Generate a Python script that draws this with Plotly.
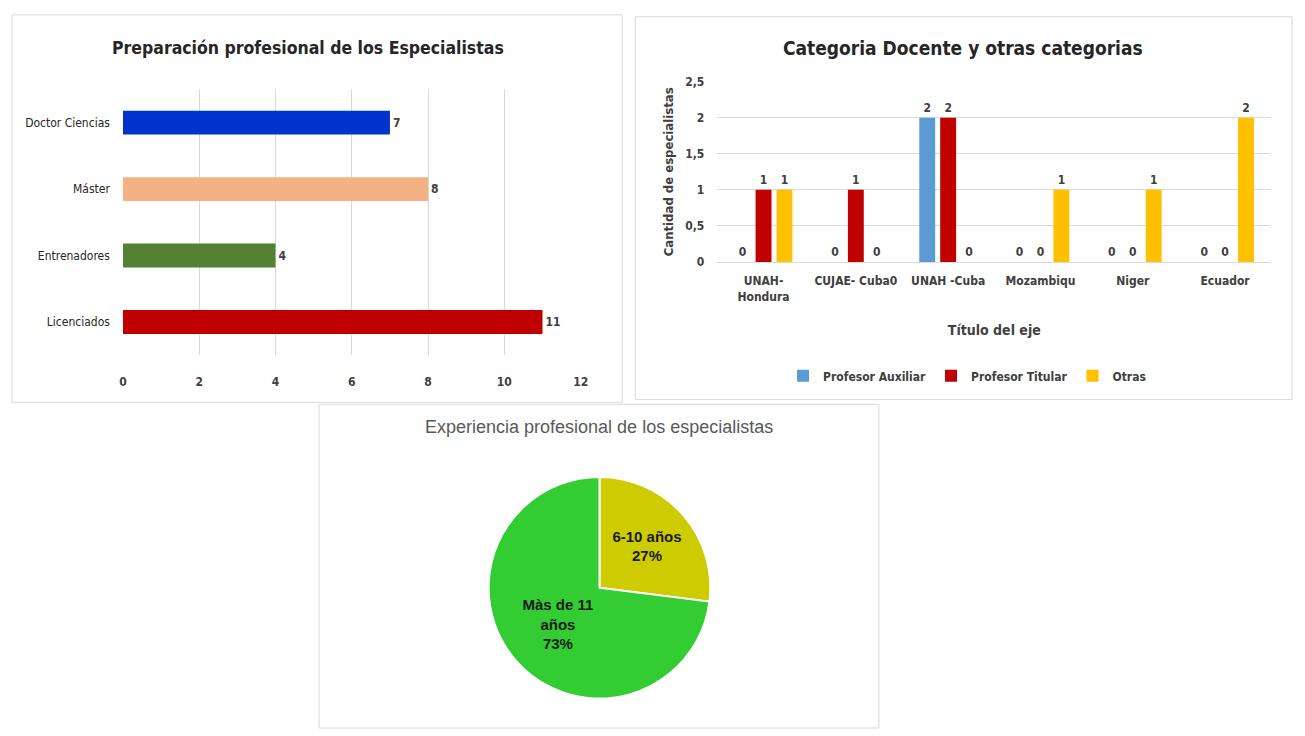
import plotly.graph_objects as go

W, H = 1305, 736

# ---- Data ----
prep_categories = ["Licenciados", "Entrenadores", "Máster", "Doctor Ciencias"]
prep_values = [11, 4, 8, 7]
prep_colors = ["#c00000", "#548235", "#f4b183", "#0033cc"]

cat_categories = ["UNAH-<br>Hondura", "CUJAE- Cuba0", "UNAH -Cuba", "Mozambiqu", "Niger", "Ecuador"]
cat_series = ["Profesor Auxiliar", "Profesor Titular", "Otras"]
aux_values = [0, 0, 2, 0, 0, 0]
titular_values = [1, 1, 2, 0, 0, 0]
otras_values = [1, 0, 0, 1, 1, 2]
cat_colors = ["#5b9bd5", "#c00000", "#ffc000"]

exp_labels = ["6-10 años", "Màs de 11<br>años"]
exp_values = [27, 73]
exp_colors = ["#cccc00", "#33cc33"]

FONT = "Liberation Sans Narrow, DejaVu Sans Condensed, Arial Narrow, sans-serif"


def px_x(x):
    return x / W


def px_y(y):
    return 1 - y / H


fig = go.Figure()

# ---- Panel 1: horizontal bars ----
fig.add_trace(go.Bar(
    y=prep_categories, x=prep_values, orientation="h", width=0.36,
    marker=dict(color=prep_colors, line=dict(width=0)),
    text=[str(v) for v in prep_values], textposition="outside",
    textfont=dict(family=FONT, size=12, color="#404040", weight="bold"),
    cliponaxis=False, showlegend=False, xaxis="x", yaxis="y",
))

# ---- Panel 2: grouped bars ----
for name, vals, col in zip(cat_series, [aux_values, titular_values, otras_values], cat_colors):
    fig.add_trace(go.Bar(
        x=cat_categories, y=vals, name=name,
        marker=dict(color=col, line=dict(width=0)),
        text=[str(v) for v in vals], textposition="outside",
        textfont=dict(family=FONT, size=12, color="#404040", weight="bold"),
        cliponaxis=False, xaxis="x2", yaxis="y2",
    ))

# ---- Panel 3: pie ----
fig.add_trace(go.Pie(
    labels=exp_labels, values=exp_values, sort=False, direction="clockwise",
    rotation=0, marker=dict(colors=exp_colors, line=dict(color="white", width=2)),
    textinfo="label+percent", textposition="inside", insidetextorientation="horizontal",
    textfont=dict(family="Liberation Sans, Arial, sans-serif", size=15, color="#1a1a1a"),
    texttemplate="<b>%{label}<br>%{percent:.0%}</b>",
    domain=dict(x=[px_x(488), px_x(714)], y=[px_y(705), px_y(479)]),
    showlegend=False, hoverinfo="label+percent",
))

grid = "#d9d9d9"
tickfont = dict(family=FONT, size=12, color="#404040", weight="bold")

fig.update_layout(
    width=W, height=H, margin=dict(l=0, r=0, t=0, b=0),
    paper_bgcolor="white", plot_bgcolor="white",
    separators=", ",
    barmode="group", bargap=0.32, bargroupgap=0.24,
    xaxis=dict(domain=[px_x(120), px_x(582)], range=[0, 12], dtick=2, anchor="y",
               showgrid=True, gridcolor=grid, zeroline=False, showline=False,
               tickfont=tickfont, ticklabelstandoff=18, fixedrange=True),
    yaxis=dict(domain=[px_y(355), px_y(84)], anchor="x", type="category",
               categoryorder="array", categoryarray=prep_categories,
               showgrid=False, showline=False,
               tickfont=dict(family=FONT, size=12, color="#262626"),
               ticklabelstandoff=12),
    xaxis2=dict(domain=[px_x(720), px_x(1279)], anchor="y2", type="category",
                showgrid=False, showline=True, linecolor=grid, tickfont=tickfont,
                ticklabelstandoff=8,
                title=dict(text="<b>Título del eje</b>", font=dict(family=FONT, size=14, color="#404040"),
                           standoff=22)),
    yaxis2=dict(domain=[px_y(260), px_y(76)], anchor="x2", range=[0, 2.5], dtick=0.5,
                tickformat=".1~f", showgrid=True, gridcolor=grid, zeroline=False,
                tickfont=tickfont, ticklabelstandoff=12,
                title=dict(text="<b>Cantidad de especialistas</b>",
                           font=dict(family=FONT, size=13, color="#404040"), standoff=8)),
    legend=dict(orientation="h", x=px_x(972), xanchor="center", y=px_y(376), yanchor="middle",
                font=dict(family=FONT, size=12, color="#404040", weight="bold"), itemwidth=30,
                tracegroupgap=0),
    shapes=[
        dict(type="rect", xref="paper", yref="paper", x0=px_x(8), x1=px_x(624), y0=px_y(403), y1=px_y(8),
             line=dict(color=grid, width=1)),
        dict(type="rect", xref="paper", yref="paper", x0=px_x(637), x1=px_x(1300), y0=px_y(400), y1=px_y(10),
             line=dict(color=grid, width=1)),
        dict(type="rect", xref="paper", yref="paper", x0=px_x(318), x1=px_x(883), y0=px_y(735), y1=px_y(405),
             line=dict(color=grid, width=1)),
    ],
    annotations=[
        dict(text="<b>Preparación profesional de los Especialistas</b>", x=px_x(307), y=px_y(42),
             xref="paper", yref="paper", showarrow=False, xanchor="center", yanchor="middle",
             font=dict(family=FONT, size=17.5, color="#262626")),
        dict(text="<b>Categoria Docente y otras categorias</b>", x=px_x(968), y=px_y(42),
             xref="paper", yref="paper", showarrow=False, xanchor="center", yanchor="middle",
             font=dict(family=FONT, size=19, color="#262626")),
        dict(text="Experiencia profesional de los especialistas", x=px_x(601), y=px_y(428),
             xref="paper", yref="paper", showarrow=False, xanchor="center", yanchor="middle",
             font=dict(family="Liberation Sans, Arial, sans-serif", size=18, color="#595959")),
    ],
)

fig.write_html("out.html")
